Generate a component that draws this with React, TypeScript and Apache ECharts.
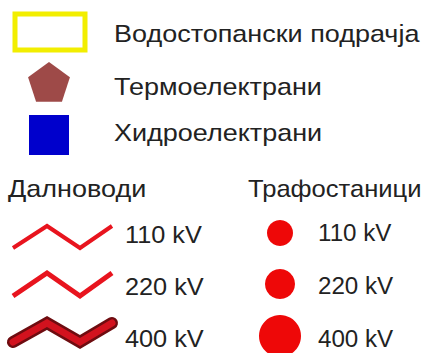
import React, { useEffect, useRef } from "react";
import * as echarts from "echarts";

const symbolLabels = ["Водостопански подрачја", "Термоелектрани", "Хидроелектрани"];
const sectionTitles = ["Далноводи", "Трафостаници"];
const voltageLevels = ["110 kV", "220 kV", "400 kV"];
const lineWidths = [4, 5, 7];
const circleRadii = [13, 15, 21];

const FONT = "'Liberation Sans', Arial, sans-serif";
const TEXT_COLOR = "#222222";

function txt(x: number, y: number, s: string, size = 24, sx = 1.125) {
  return {
    type: "text",
    x,
    y,
    scaleX: sx,
    style: {
      text: s,
      fill: TEXT_COLOR,
      font: `${size}px ${FONT}`,
      textAlign: "left",
      textVerticalAlign: "middle",
    },
  };
}

export default function App() {
  const ref = useRef<HTMLDivElement>(null);
  useEffect(() => {
    if (!ref.current) return;
    const chart = echarts.init(ref.current, undefined, { renderer: "svg" });
    const els: any[] = [];
    // Top symbols
    els.push({
      type: "rect",
      shape: { x: 15, y: 14, width: 70, height: 36 },
      style: { fill: "#ffffff", stroke: "#f2ee00", lineWidth: 5 },
    });
    const cx = 49, cy = 84, r = 22;
    const pent: number[][] = [];
    for (let i = 0; i < 5; i++) {
      const a = -Math.PI / 2 + (i * 2 * Math.PI) / 5;
      pent.push([cx + r * Math.cos(a), cy + r * Math.sin(a)]);
    }
    els.push({ type: "polygon", shape: { points: pent }, style: { fill: "#9e4a48" } });
    els.push({
      type: "rect",
      shape: { x: 29, y: 115, width: 40, height: 40 },
      style: { fill: "#0000cc" },
    });
    const topY = [34, 87, 133];
    symbolLabels.forEach((s, i) => els.push(txt(114, topY[i], s)));

    // Section titles
    els.push(txt(8, 189, sectionTitles[0]));
    els.push(txt(248, 189, sectionTitles[1], 24, 1.065));

    // Lines
    const lineY = [[248, 226], [296, 273], [342, 323]];
    const leftLabelY = [235, 287, 339];
    voltageLevels.forEach((lv, i) => {
      const [lo, hi] = lineY[i];
      const pts = [[13, lo], [47, hi], [80, lo], [112, hi]];
      if (i === 2) {
        els.push({
          type: "polyline",
          shape: { points: pts },
          style: { stroke: "#6e0c10", lineWidth: 12, lineJoin: "miter", lineCap: "round", fill: null },
        });
        els.push({
          type: "polyline",
          shape: { points: pts },
          style: { stroke: "#d2121e", lineWidth: lineWidths[i], lineJoin: "miter", lineCap: "round", fill: null },
        });
      } else {
        els.push({
          type: "polyline",
          shape: { points: pts },
          style: { stroke: "#e8141e", lineWidth: lineWidths[i], lineJoin: "miter", lineCap: "butt", fill: null },
        });
      }
      els.push(txt(125, leftLabelY[i], lv, 23, 1.1));
    });

    // Circles
    const circY = [233, 284, 336];
    const rightLabelY = [233, 286, 339];
    voltageLevels.forEach((lv, i) => {
      els.push({
        type: "circle",
        shape: { cx: 280, cy: circY[i], r: circleRadii[i] },
        style: { fill: "#ee0808" },
      });
      els.push(txt(318, rightLabelY[i], lv, 23, 1.05));
    });

    chart.setOption({
      animation: false,
      backgroundColor: "#ffffff",
      graphic: { elements: els },
    });
    return () => chart.dispose();
  }, []);
  return (
    <div
      ref={ref}
      style={{ width: 425, height: 353, position: "absolute", left: 0, top: 0 }}
    />
  );
}
